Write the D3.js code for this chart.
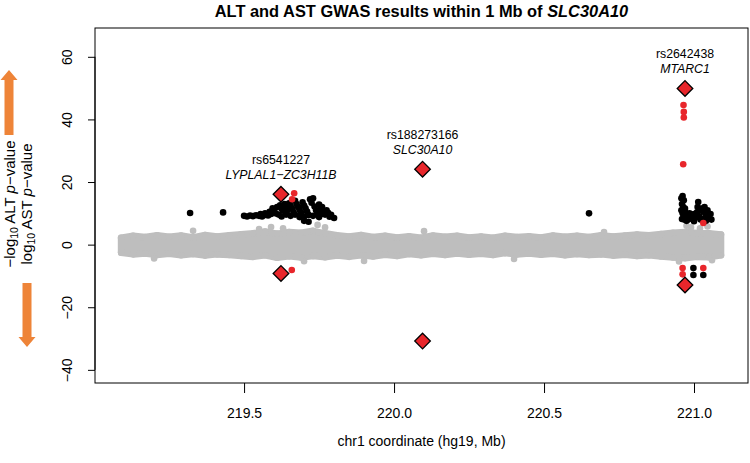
<!DOCTYPE html>
<html><head><meta charset="utf-8">
<script src="https://cdn.jsdelivr.net/npm/d3@7"></script>
<style>
html,body{margin:0;padding:0;background:#fff;}
svg{display:block;font-family:"Liberation Sans",Arial,Helvetica,sans-serif;}
</style></head>
<body>
<svg id="chart" width="750" height="463"></svg>
<script>
// ---------------- data ----------------
const xTicks = [219.5, 220.0, 220.5, 221.0];
const yTicks = [-40, -20, 0, 20, 40, 60];

// envelope of the dense grey (non-significant) point cloud
const bandMb = [219.09,219.13,219.17,219.21,219.25,219.29,219.33,219.37,219.41,219.45,
  219.49,219.53,219.57,219.61,219.65,219.69,219.73,219.77,219.81,219.85,
  219.89,219.93,219.97,220.01,220.05,220.09,220.13,220.17,220.21,220.25,
  220.29,220.33,220.37,220.41,220.45,220.49,220.53,220.57,220.61,220.65,
  220.69,220.73,220.77,220.81,220.85,220.89,220.93,220.97,221.01,221.05,221.09];
const bandTop = [2.2,2.8,2.4,3.0,2.5,2.9,2.3,3.1,2.6,3.0,
  3.3,3.6,4.2,3.5,4.0,3.8,4.4,3.6,3.0,2.6,
  3.1,2.4,2.8,2.3,2.7,2.2,2.9,2.5,2.8,2.3,
  2.6,2.2,2.8,2.4,2.7,2.3,2.9,2.5,2.8,2.4,
  3.0,2.6,2.9,3.2,3.0,3.4,3.8,4.0,3.7,3.6,3.2];
const bandBottom = [-2.6,-3.1,-2.8,-3.3,-2.9,-3.4,-3.0,-3.5,-3.1,-3.3,
  -3.6,-3.9,-3.4,-4.2,-3.7,-4.1,-3.6,-4.0,-3.5,-3.9,
  -3.4,-3.8,-3.2,-3.6,-3.0,-3.4,-2.9,-3.3,-2.8,-3.2,
  -2.9,-3.3,-2.7,-3.1,-2.8,-3.2,-2.9,-3.4,-3.0,-3.3,
  -3.1,-3.5,-3.2,-3.6,-3.4,-3.8,-4.1,-4.3,-3.9,-4.0,-3.4];

// grey points sticking out of the cloud
const grayMb  = [219.33,219.55,219.59,219.63,219.745,219.77,220.10,220.70,220.975,220.99,221.02,221.045,219.90,220.95,221.06,219.70,220.40,219.20];
const grayVal = [4.4,5.0,5.6,5.2,6.3,5.5,4.3,4.0,6.0,5.5,5.2,5.8,-5.2,-5.4,-5.0,-5.3,-4.6,-4.4];

// genome-wide significant, not in LD with lead variant (black)
const blackMb = [219.32,219.43,219.50,219.51,219.52,219.53,219.54,219.55,219.56,219.57,219.58,219.59,219.585,219.57,219.555,
  219.60,219.61,219.62,219.625,219.63,219.635,219.64,219.645,219.65,219.655,219.66,219.665,219.67,219.675,219.68,219.685,219.69,
  219.695,219.70,219.705,219.71,219.715,219.72,219.725,219.73,219.735,219.74,219.745,219.75,219.755,219.76,219.765,219.77,219.775,
  219.78,219.785,219.79,219.80,219.70,219.715,219.605,219.615,219.625,219.64,219.655,219.67,219.685,219.70,219.73,219.75,219.76,219.595,
  220.65,
  220.958,220.962,220.966,220.96,220.964,220.958,220.962,220.966,220.96,220.97,220.972,220.975,220.98,220.985,220.99,220.995,221.0,
  221.005,221.01,221.014,221.012,221.018,221.022,221.026,221.03,221.035,221.04,221.045,221.05,221.055,221.058,221.03,220.975,221.04,221.0,220.968,
  220.998,220.998,221.031];
const blackVal = [10.1,10.3,9.2,9.0,9.3,9.1,9.4,9.2,9.0,9.5,9.3,9.8,10.5,10.0,9.8,
  11.2,12.0,12.6,11.5,10.8,13.0,12.2,11.0,13.2,12.4,11.5,10.4,14.0,13.0,12.0,11.2,10.2,
  13.5,12.5,11.6,10.6,9.5,14.5,13.4,14.8,12.2,11.0,10.0,12.8,11.5,12.0,10.5,9.6,11.0,
  10.2,8.9,9.5,8.5,7.6,7.3,10.0,9.6,9.0,9.6,9.2,9.6,8.8,9.0,9.2,8.8,9.8,11.6,
  10.0,
  14.8,15.5,14.2,13.0,12.0,11.0,10.0,9.0,8.2,11.5,10.2,9.0,8.0,10.0,9.2,8.2,9.8,
  8.6,10.3,13.6,12.0,9.0,8.0,11.5,10.5,12.0,9.5,11.0,8.5,9.8,8.0,8.2,7.6,7.6,7.5,8.0,
  -7.5,-9.7,-9.7];

// variants in LD with the lead variants (red)
const redMb  = [219.667,219.66,219.659,220.964,220.965,220.966,220.966,221.031,220.962,220.962,221.031];
const redVal = [16.4,14.5,-8.1,25.7,44.6,42.4,40.6,6.9,-7.5,-9.5,-7.5];

// lead variants: ALT (up) and AST (down)
const leadMb   = [219.623, 220.095, 220.97];
const leadAlt  = [16.1, 24.1, 49.9];
const leadAst  = [-9.2, -30.8, -12.9];
const leadRs   = ["rs6541227", "rs188273166", "rs2642438"];
const leadGene = ["LYPLAL1\u2212ZC3H11B", "SLC30A10", "MTARC1"];

// ---------------- drawing ----------------
const svg = d3.select("#chart");
const L = 95, R = 748, T = 28, B = 383;
const x = d3.scaleLinear().domain([219.003, 221.18]).range([L, R]);
const y = d3.scaleLinear().domain([-44.2, 69.2]).range([B, T]);
const GRAY = "#bebebe", RED = "#e8262b", ORANGE = "#ee8438";
const rPt = 3.3;

// grey cloud
const band = bandMb.map((m, i) => ({m, t: bandTop[i], b: bandBottom[i]}));
svg.append("path").datum(band)
  .attr("d", d3.area().x(d => x(d.m)).y0(d => y(d.b)).y1(d => y(d.t)))
  .attr("fill", GRAY).attr("stroke", GRAY).attr("stroke-width", rPt * 2).attr("stroke-linejoin", "round");
svg.append("g").selectAll("circle").data(band).join("circle")
  .attr("cx", d => x(d.m)).attr("cy", d => y(d.t)).attr("r", rPt).attr("fill", GRAY);
svg.append("g").selectAll("circle").data(band).join("circle")
  .attr("cx", d => x(d.m)).attr("cy", d => y(d.b)).attr("r", rPt).attr("fill", GRAY);
svg.append("g").selectAll("circle").data(grayMb).join("circle")
  .attr("cx", d => x(d)).attr("cy", (d, i) => y(grayVal[i])).attr("r", rPt).attr("fill", GRAY);

// black
svg.append("g").selectAll("circle").data(blackMb).join("circle")
  .attr("cx", d => x(d)).attr("cy", (d, i) => y(blackVal[i])).attr("r", rPt).attr("fill", "#000");
// red
svg.append("g").selectAll("circle").data(redMb).join("circle")
  .attr("cx", d => x(d)).attr("cy", (d, i) => y(redVal[i])).attr("r", rPt).attr("fill", RED);

// diamonds
const diamond = "M0,-7.8L7.8,0L0,7.8L-7.8,0Z";
const leads = [];
leadMb.forEach((m, i) => { leads.push({m, v: leadAlt[i]}); leads.push({m, v: leadAst[i]}); });
svg.append("g").selectAll("path").data(leads).join("path")
  .attr("d", diamond).attr("transform", d => `translate(${x(d.m)},${y(d.v)})`)
  .attr("fill", RED).attr("stroke", "#000").attr("stroke-width", 1.3);

// annotations
const ann = svg.append("g").attr("font-size", 12.3).attr("text-anchor", "middle").attr("fill", "#000");
leadMb.forEach((m, i) => {
  const cy = y(leadAlt[i]);
  ann.append("text").attr("x", x(m)).attr("y", cy - 30).text(leadRs[i]);
  ann.append("text").attr("x", x(m)).attr("y", cy - 15).attr("font-style", "italic").text(leadGene[i]);
});

// box
svg.append("rect").attr("x", L).attr("y", T).attr("width", R - L).attr("height", B - T)
  .attr("fill", "none").attr("stroke", "#000").attr("stroke-width", 1);

// x axis
const fmtX = d3.format(".1f");
const xa = svg.append("g").attr("transform", `translate(0,${B})`)
  .call(d3.axisBottom(x).tickValues(xTicks).tickSize(10).tickFormat(fmtX));
xa.select(".domain").remove();
xa.selectAll("line").attr("stroke", "#000");
xa.selectAll("text").attr("font-size", 14).attr("fill", "#000").attr("y", 35).attr("dy", 0)
  .attr("font-family", "Liberation Sans, Arial, sans-serif");

// y axis
const ya = svg.append("g").attr("transform", `translate(${L},0)`)
  .call(d3.axisLeft(y).tickValues(yTicks).tickSize(7).tickFormat(d => d < 0 ? "\u2212" + (-d) : String(d)));
ya.select(".domain").attr("d", `M0,${y(-40)}V${y(60)}`).attr("stroke", "#000");
ya.selectAll("line").attr("stroke", "#000");
ya.selectAll("text").attr("font-size", 14).attr("fill", "#000")
  .attr("x", null).attr("dy", null).attr("text-anchor", "middle")
  .attr("font-family", "Liberation Sans, Arial, sans-serif")
  .attr("transform", "translate(-23,0) rotate(-90)").attr("y", 0);

// title
const title = svg.append("text").attr("x", (L + R) / 2).attr("y", 17).attr("text-anchor", "middle")
  .attr("font-size", 16.4).attr("font-weight", "bold");
title.append("tspan").text("ALT and AST GWAS results within 1 Mb of ");
title.append("tspan").attr("font-style", "italic").text("SLC30A10");

// x title
svg.append("text").attr("x", (L + R) / 2).attr("y", 446).attr("text-anchor", "middle")
  .attr("font-size", 14).text("chr1 coordinate (hg19, Mb)");

// y title (two lines)
function yLabel(xpos, prefix, trait) {
  const t = svg.append("text").attr("transform", `translate(${xpos},204) rotate(-90)`)
    .attr("text-anchor", "middle").attr("font-size", 15);
  t.append("tspan").text(prefix + "log");
  t.append("tspan").attr("font-size", 10.5).attr("dy", 3).text("10");
  t.append("tspan").attr("dy", -3).text(" " + trait + " ");
  t.append("tspan").attr("font-style", "italic").text("p");
  t.append("tspan").text("\u2212value");
}
yLabel(15, "\u2212", "ALT");
yLabel(32, "", "AST");

// orange arrows
function arrow(cx, tail, tip) {
  const dir = tip < tail ? -1 : 1;
  const hb = tip - dir * 10;
  const p = d3.path();
  p.moveTo(cx - 4.5, tail); p.lineTo(cx - 4.5, hb); p.lineTo(cx - 8.5, hb);
  p.lineTo(cx, tip); p.lineTo(cx + 8.5, hb); p.lineTo(cx + 4.5, hb); p.lineTo(cx + 4.5, tail); p.closePath();
  svg.append("path").attr("d", p.toString()).attr("fill", ORANGE);
}
arrow(9, 135, 70);
arrow(27, 283, 347);
</script>
</body></html>
